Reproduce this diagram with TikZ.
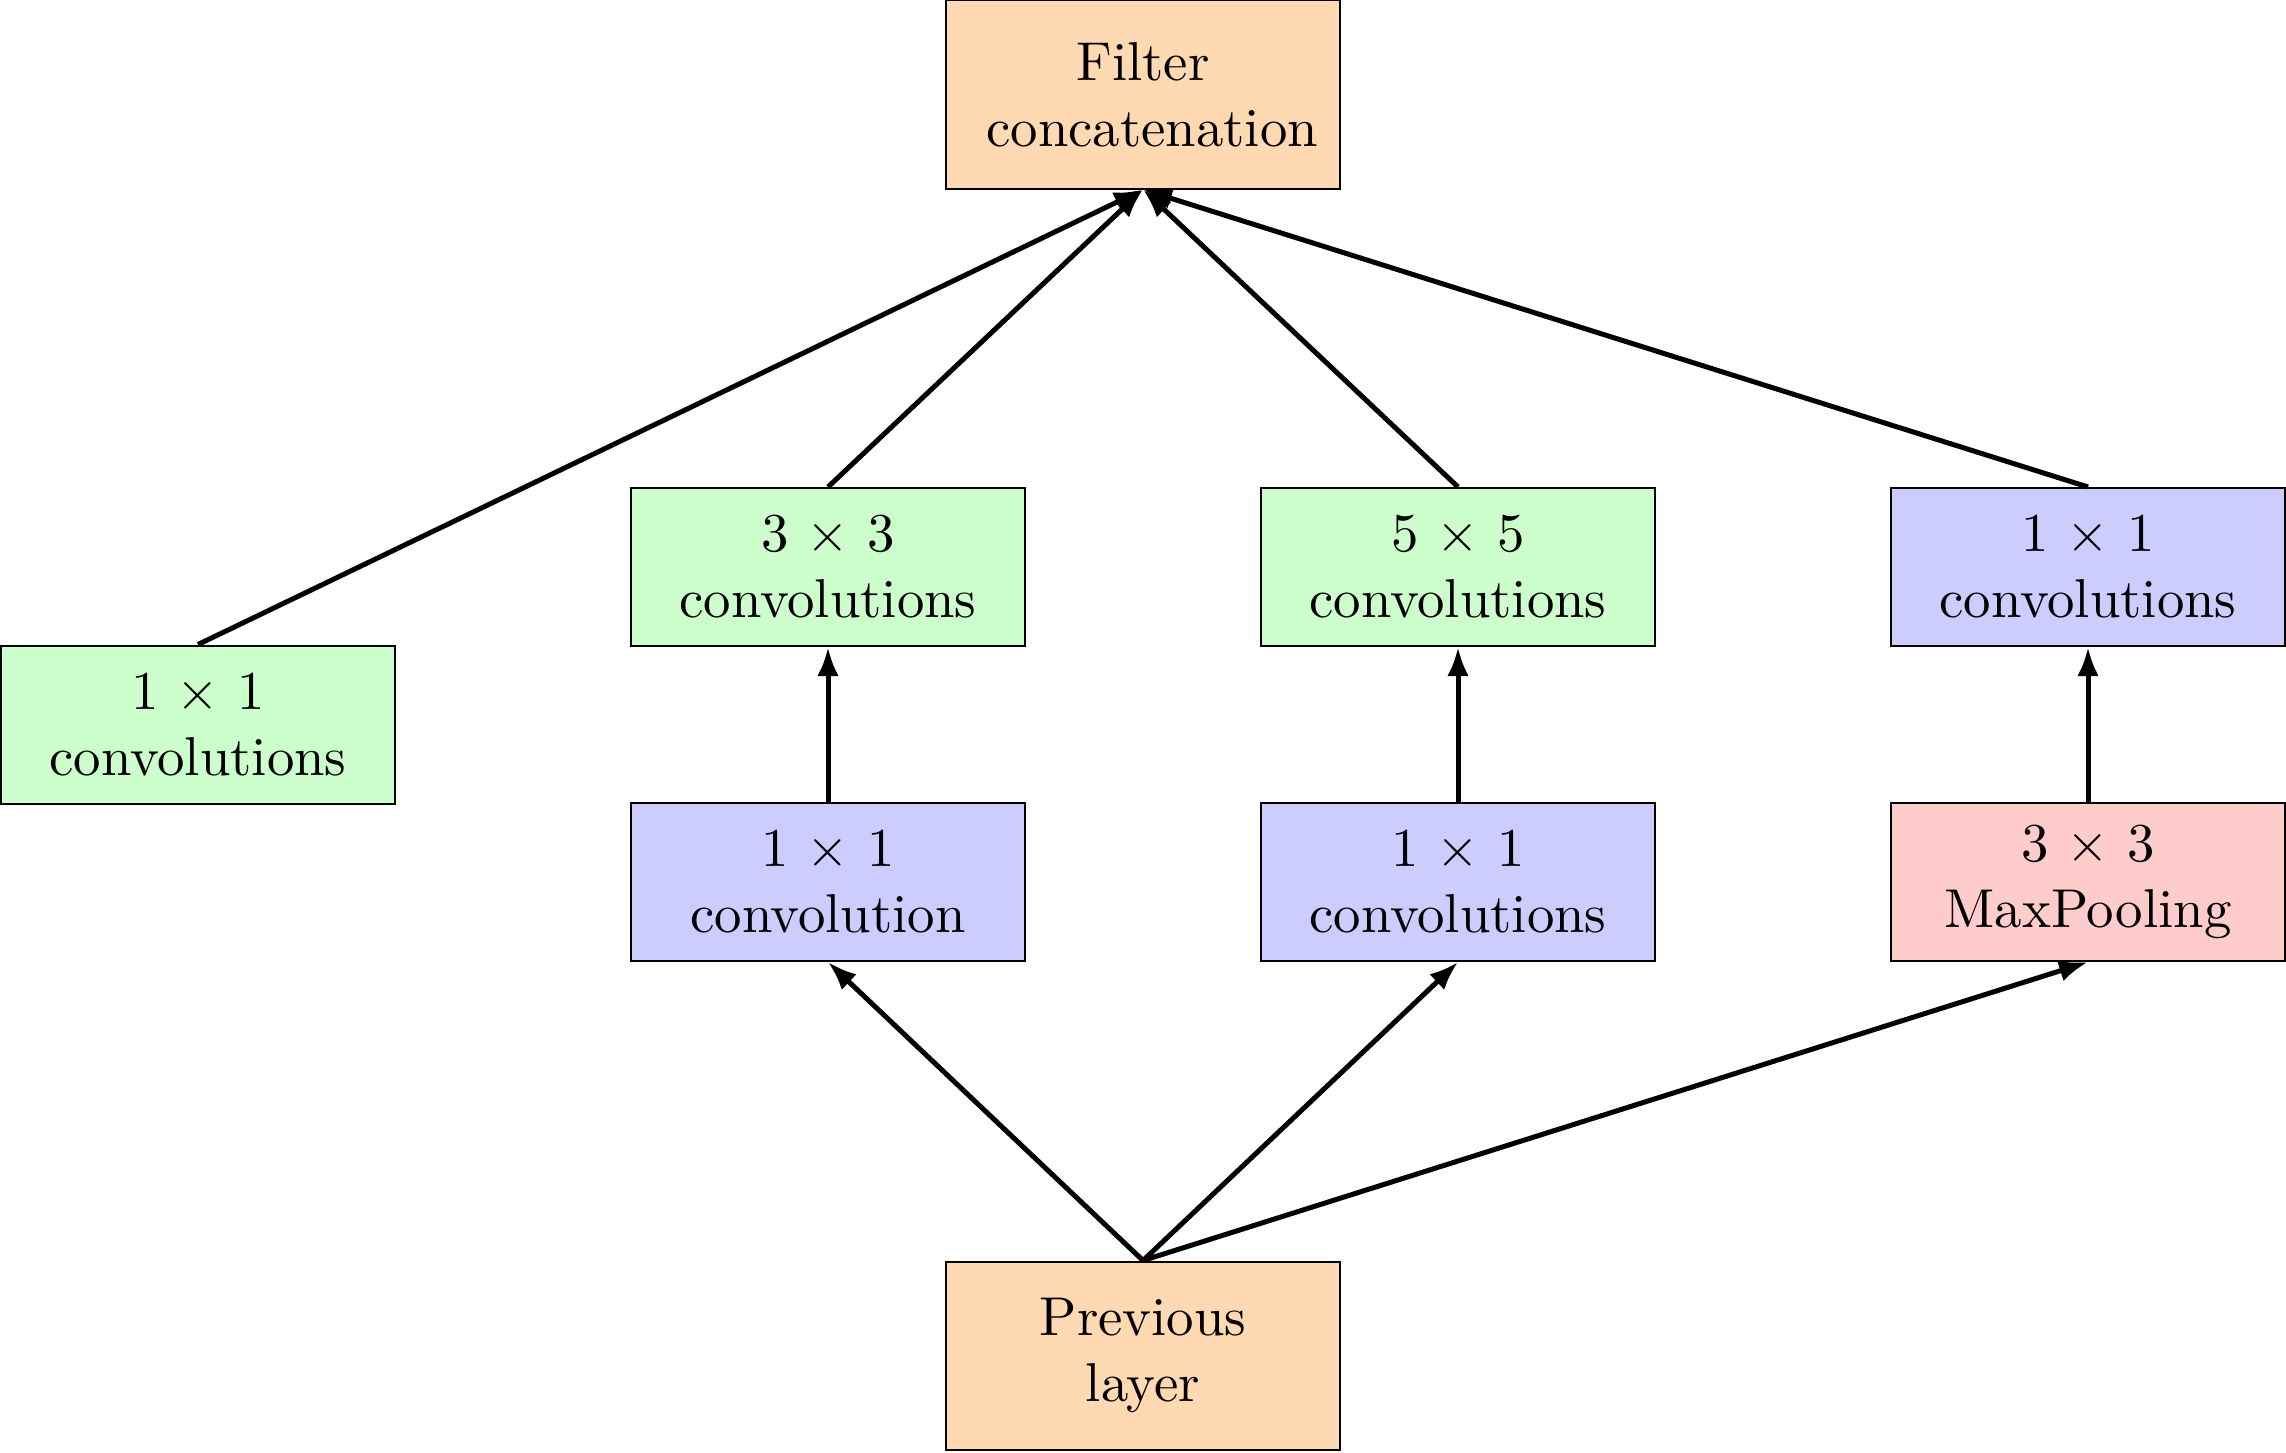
\documentclass[tikz,border=0pt]{standalone}
\usetikzlibrary{arrows.meta}
\begin{document}
\begin{tikzpicture}[x=0.2pt,y=-0.2pt,
  box/.style={draw=black,line width=0.4pt,rectangle,inner sep=0pt,align=center,
    minimum width=78.8pt,minimum height=31.6pt,font=\fontsize{10.95}{13.2}\selectfont},
  tallbox/.style={box,minimum height=37.6pt},
  orangebox/.style={tallbox,fill=orange!30},
  greenbox/.style={box,fill=green!20},
  bluebox/.style={box,fill=blue!20},
  redbox/.style={box,fill=red!20},
  arr/.style={line width=1pt,-{Latex[length=5.8pt,width=4.3pt]}}]
\useasboundingbox (0,0) rectangle (2286,1452);
\node[orangebox] (filter) at (1143,94.5) {Filter\\\mbox{} concatenation};
\node[orangebox] (prev) at (1143,1355.5) {Previous\\layer};
\node[greenbox] (c1) at (198,724.5) {1 $\times$ 1\\convolutions};
\node[greenbox] (c3) at (828,567) {3 $\times$ 3\\convolutions};
\node[greenbox] (c5) at (1458,567) {5 $\times$ 5\\convolutions};
\node[bluebox] (cp) at (2088,567) {1 $\times$ 1\\convolutions};
\node[bluebox] (r3) at (828,882) {1 $\times$ 1\\convolution};
\node[bluebox] (r5) at (1458,882) {1 $\times$ 1\\convolutions};
\node[redbox] (mp) at (2088,882) {3 $\times$ 3\\MaxPooling};
\draw[arr] (prev.north) -- (r3.south);
\draw[arr] (prev.north) -- (r5.south);
\draw[arr] (prev.north) -- (mp.south);
\draw[arr] (r3.north) -- (c3.south);
\draw[arr] (r5.north) -- (c5.south);
\draw[arr] (mp.north) -- (cp.south);
\draw[arr] (c1.north) -- (filter.south);
\draw[arr] (c3.north) -- (filter.south);
\draw[arr] (c5.north) -- (filter.south);
\draw[arr] (cp.north) -- (filter.south);
\end{tikzpicture}
\end{document}
